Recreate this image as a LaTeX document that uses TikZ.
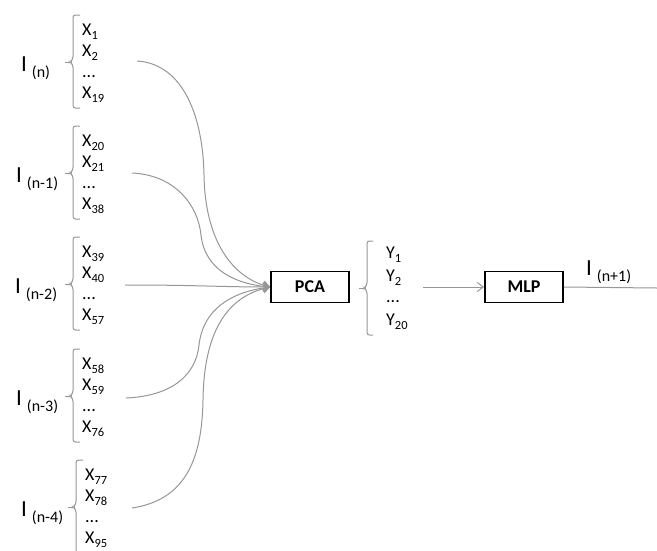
\documentclass[tikz,border=0pt]{standalone}
\usepackage{fontspec}
\setmainfont{Carlito}
\usetikzlibrary{arrows.meta}
\definecolor{ln}{RGB}{150,150,150}
\tikzset{
  lab/.style={anchor=base west, inner sep=0pt, font=\fontsize{18}{18}\selectfont},
  biglab/.style={anchor=base west, inner sep=0pt},
  brc/.style={draw=ln, line width=1pt, rounded corners=2.5pt},
  con/.style={draw=ln, line width=1pt, -{Straight Barb[length=6pt,width=9pt]}},
  plain/.style={draw=ln, line width=1pt},
  blk/.style={draw, line width=1.8pt, minimum width=78pt, minimum height=31pt, inner sep=0pt, font=\fontsize{18}{18}\selectfont\bfseries}
}
\newcommand{\Xsub}[2]{#1\raisebox{-4pt}{\fontsize{12.5}{12.5}\selectfont #2}}
\newcommand{\Ilab}[1]{{\fontsize{23}{23}\selectfont I}\hspace{5pt}\raisebox{-6pt}{\fontsize{16}{16}\selectfont #1}}
\begin{document}
\begin{tikzpicture}[x=1pt,y=-1pt]
\useasboundingbox (0,0) rectangle (657,550);

% input groups
\foreach \k/\c/\a/\b/\d/\s/\ix/\bx in {1/62/1/2/19/(n)/21/73, 2/173/20/21/38/(n-1)/16/73, 3/284/39/40/57/(n-2)/15/73, 4/396/58/59/76/(n-3)/16/73, 5/507/77/78/95/(n-4)/21/76}{
  \node[biglab] (I\k) at (\ix,\c+9) {\Ilab{\s}};
  \draw[brc] (\bx+7,\c-47) -| (\bx,\c-3) -- (\bx-3,\c) -- (\bx,\c+3) |- (\bx+7,\c+46);
  \draw[plain] (\bx-3,\c) -- (\bx-8,\c);
  \node[lab] (xa\k) at (\bx+9,\c-27) {\Xsub{X}{\a}};
  \node[lab] (xb\k) at (\bx+9,\c-6) {\Xsub{X}{\b}};
  \node[lab] (xc\k) at (\bx+9,\c+15) {...};
  \node[lab] (xd\k) at (\bx+9,\c+36) {\Xsub{X}{\d}};
}

% PCA
\node[blk] (pca) at (310,287) {PCA};

\coordinate (s1) at (137,61);
\coordinate (s2) at (132,173);
\coordinate (s3) at (125,285);
\coordinate (s4) at (126,398);
\coordinate (s5) at (132,508);

\draw[con] (s1) .. controls (185,64) and (203,120) .. (204,175) .. controls (205,240) and (232,278) .. (pca.west);
\draw[con] (s2) .. controls (175,175) and (198,205) .. (201,235) .. controls (205,270) and (235,284) .. (pca.west);
\draw[con] (s3) .. controls (200,285) and (220,287) .. (pca.west);
\draw[con] (s4) .. controls (172,396) and (196,375) .. (199,345) .. controls (203,310) and (230,292) .. (pca.west);
\draw[con] (s5) .. controls (185,500) and (202,460) .. (203,400) .. controls (204,330) and (228,296) .. (pca.west);

% Y group
\draw[brc] (373,241) -| (367,285) -- (364,288) -- (367,291) |- (373,335);
\draw[plain] (364,288) -- (359,288);
\node[lab] (ya) at (386,258) {\Xsub{Y}{1}};
\node[lab] (yb) at (386,281) {\Xsub{Y}{2}};
\node[lab] (yc) at (386,302) {...};
\node[lab] (yd) at (386,325) {\Xsub{Y}{20}};

% MLP
\node[blk] (mlp) at (524,287) {MLP};
\coordinate (ys) at (423,287);
\draw[con] (ys) -- (mlp.west);
\coordinate (outr) at (657,288);
\draw[plain] (mlp.east) -- (outr);
\node[biglab] (Iout) at (586,275) {\Ilab{(n+1)}};
\end{tikzpicture}
\end{document}
